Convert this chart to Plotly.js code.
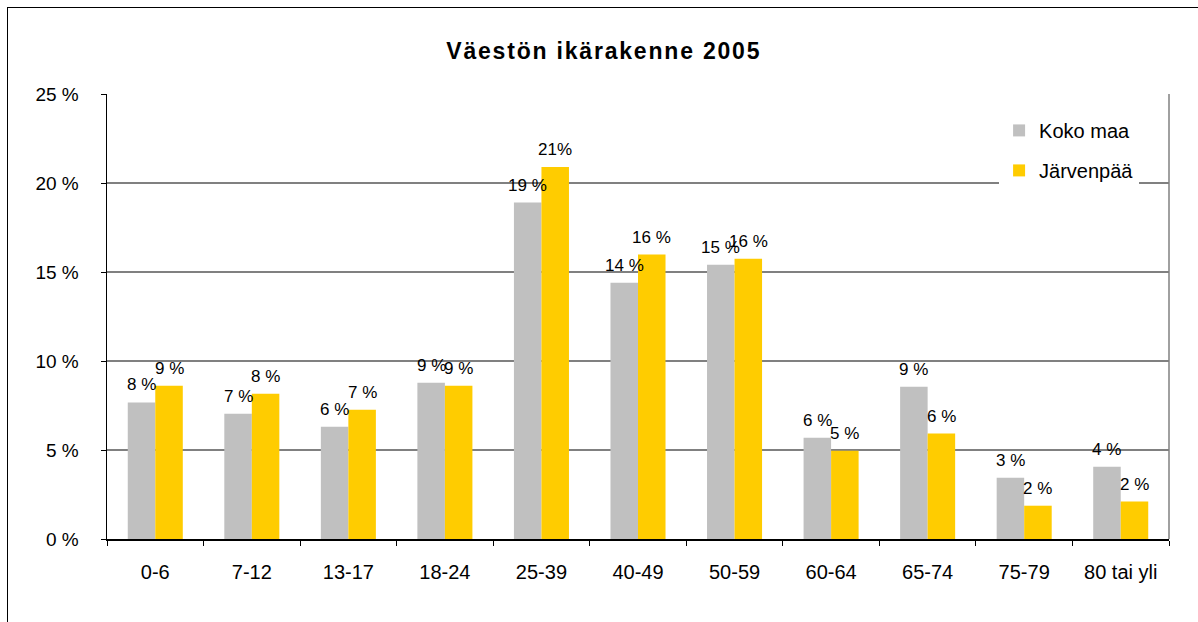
<!DOCTYPE html>
<html>
<head>
<meta charset="utf-8">
<script src="https://cdn.plot.ly/plotly-3.0.1.min.js"></script>
<style>
  body { margin: 0; padding: 0; background: #fff; }
  #chart { width: 1198px; height: 622px; }
  #frame {
    position: absolute; left: 7px; top: 7px; right: -2px; bottom: -2px;
    border-left: 1.5px solid #000; border-top: 1.5px solid #000;
    pointer-events: none;
  }
  .gtitle { letter-spacing: 1.8px; }
</style>
</head>
<body>
<div id="chart"></div>
<div id="frame"></div>
<script>
// Age groups
const ageGroups = ['0-6', '7-12', '13-17', '18-24', '25-39', '40-49', '50-59', '60-64', '65-74', '75-79', '80 tai yli'];

// Share of population, percent
const kokoMaa = [7.67, 7.04, 6.31, 8.78, 18.9, 14.4, 15.41, 5.69, 8.56, 3.44, 4.06];
const jarvenpaa = [8.61, 8.16, 7.26, 8.61, 20.9, 15.98, 15.75, 4.96, 5.92, 1.87, 2.1];

// Data labels as shown on the chart
const kokoMaaLabels = ['8 %', '7 %', '6 %', '9 %', '19 %', '14 %', '15 %', '6 %', '9 %', '3 %', '4 %'];
const jarvenpaaLabels = ['9 %', '8 %', '7 %', '9 %', '21%', '16 %', '16 %', '5 %', '6 %', '2 %', '2 %'];

const yTicks = [0, 5, 10, 15, 20, 25];
const yTickText = ['0 %', '5 %', '10 %', '15 %', '20 %', '25 %'];

const fontFamily = 'Liberation Sans, Arial, sans-serif';

const data = [
    {
        name: 'Koko maa',
        type: 'bar',
        x: ageGroups,
        y: kokoMaa,
        marker: { color: '#C0C0C0' },
        legendgroup: 'a',
        hoverinfo: 'none'
    },
    {
        name: 'Järvenpää',
        type: 'bar',
        x: ageGroups,
        y: jarvenpaa,
        marker: { color: '#FFCC00' },
        legendgroup: 'b',
        hoverinfo: 'none'
    }
];

// Value labels above each bar
const annotations = [];
ageGroups.forEach((g, i) => {
    annotations.push({
        x: g, y: kokoMaa[i], text: kokoMaaLabels[i],
        xshift: -13.75, yshift: 6, yanchor: 'bottom', showarrow: false,
        font: { family: fontFamily, size: 17, color: '#000' }
    });
    annotations.push({
        x: g, y: jarvenpaa[i], text: jarvenpaaLabels[i],
        xshift: 13.75, yshift: 6, yanchor: 'bottom', showarrow: false,
        font: { family: fontFamily, size: 17, color: '#000' }
    });
});

const layout = {
    width: 1198,
    height: 622,
    margin: { l: 107, r: 29, t: 94, b: 83 },
    paper_bgcolor: '#fff',
    plot_bgcolor: '#fff',
    font: { family: fontFamily, color: '#000' },
    title: {
        text: '<b>Väestön ikärakenne 2005</b>',
        font: { family: fontFamily, size: 23, color: '#000' },
        xref: 'container', x: 0.504,
        yref: 'container', y: 0.918, yanchor: 'middle'
    },
    barmode: 'group',
    bargap: 0.43,
    bargroupgap: 0,
    showlegend: true,
    legend: {
        x: 0.84, y: 0.962, xanchor: 'left', yanchor: 'top',
        bgcolor: '#fff',
        borderwidth: 0,
        traceorder: 'grouped',
        tracegroupgap: 11,
        font: { family: fontFamily, size: 20, color: '#000' }
    },
    xaxis: {
        type: 'category',
        tickson: 'boundaries',
        ticks: 'outside',
        ticklen: 5,
        tickcolor: '#000',
        showline: true,
        linecolor: '#000',
        linewidth: 1.5,
        showgrid: false,
        ticklabelstandoff: 14,
        tickfont: { family: fontFamily, size: 20, color: '#000' },
        fixedrange: true
    },
    yaxis: {
        range: [0, 25],
        tickvals: yTicks,
        ticktext: yTickText,
        ticks: 'outside',
        ticklen: 5,
        tickcolor: '#000',
        showline: true,
        linecolor: '#000',
        linewidth: 1.5,
        showgrid: true,
        gridcolor: '#808080',
        gridwidth: 1.2,
        zeroline: false,
        ticklabelstandoff: 18,
        tickfont: { family: fontFamily, size: 19, color: '#000' },
        fixedrange: true
    },
    shapes: [
        {
            type: 'line', xref: 'paper', yref: 'paper',
            x0: 1, x1: 1, y0: 0, y1: 1,
            line: { color: '#808080', width: 1.5 }
        }
    ],
    annotations: annotations
};

Plotly.newPlot('chart', data, layout, { displayModeBar: false, staticPlot: true });
</script>
</body>
</html>
